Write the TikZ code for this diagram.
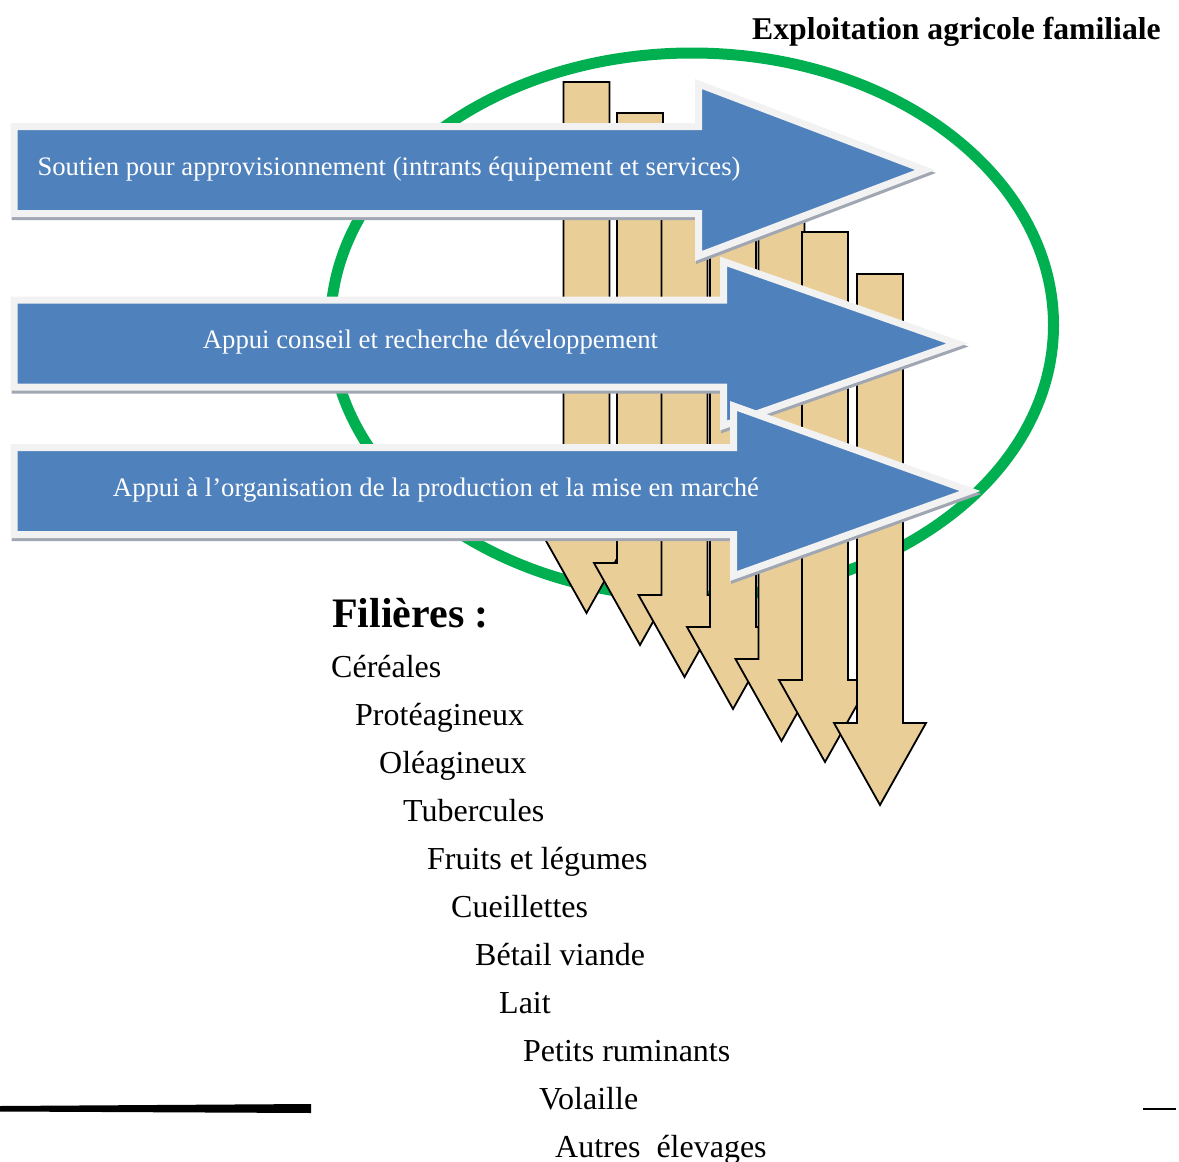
\documentclass[tikz,border=0pt]{standalone}
\usepackage{fontspec}
\setmainfont{Liberation Serif}
\usepackage{tikz}
\usetikzlibrary{positioning}
\definecolor{arrowblue}{RGB}{79,129,189}
\definecolor{arrowrim}{RGB}{242,242,242}
\definecolor{arrowshadow}{RGB}{160,166,178}
\definecolor{filgreen}{RGB}{0,176,80}
\definecolor{filtan}{RGB}{233,206,152}

\begin{document}
\begin{tikzpicture}[x=1pt,y=-1pt,
bluearrow/.style={fill=arrowblue,draw=arrowrim,line width=7pt,line join=miter},
shadowarrow/.style={fill=arrowshadow,draw=arrowshadow,line width=7pt,line join=miter},
tanarrow/.style={fill=filtan,draw=black,line width=1.8pt,line join=miter},
bluetext/.style={text=white,inner sep=0pt,anchor=base,font=\fontsize{26.7}{30}\selectfont},
itemtext/.style={inner sep=0pt,anchor=base west,font=\fontsize{32}{36}\selectfont}]

\useasboundingbox (0,0) rectangle (1179,1162);

% exploitation
\draw [color=filgreen,line width=11pt] (692,325) ellipse (361.5 and 272);

% filieres (down arrows)
\draw [tanarrow] (563.5,82) -- (609.5,82) -- (609.5,531) -- (632.5,531) -- (586.5,613) -- (540.5,531) -- (563.5,531) -- cycle;
\draw [tanarrow] (617,113) -- (663,113) -- (663,563) -- (686,563) -- (640,645) -- (594,563) -- (617,563) -- cycle;
\draw [tanarrow] (661.5,145) -- (707.5,145) -- (707.5,595) -- (730.5,595) -- (684.5,677) -- (638.5,595) -- (661.5,595) -- cycle;
\draw [tanarrow] (710,176) -- (756,176) -- (756,627) -- (779,627) -- (733,709) -- (687,627) -- (710,627) -- cycle;
\draw [tanarrow] (758.5,207) -- (804.5,207) -- (804.5,659) -- (827.5,659) -- (781.5,741) -- (735.5,659) -- (758.5,659) -- cycle;
\draw [tanarrow] (802,232) -- (848,232) -- (848,680) -- (871,680) -- (825,762) -- (779,680) -- (802,680) -- cycle;
\draw [tanarrow] (857,274) -- (903,274) -- (903,723) -- (926,723) -- (880,805) -- (834,723) -- (857,723) -- cycle;

% appuis
\draw [shadowarrow,shift={(1,3)}] (14,126.5) -- (698.5,126.5) -- (698.5,84) -- (925,170) -- (698.5,256) -- (698.5,213.5) -- (14,213.5) -- cycle;
\draw [bluearrow] (14,126.5) -- (698.5,126.5) -- (698.5,84) -- (925,170) -- (698.5,256) -- (698.5,213.5) -- (14,213.5) -- cycle;
\node [bluetext] (soutien) at (389,175) {Soutien pour approvisionnement (intrants équipement et services)};

\draw [shadowarrow,shift={(1,3)}] (14,300) -- (723.5,300) -- (723.5,261.5) -- (957,343.5) -- (723.5,425.5) -- (723.5,387) -- (14,387) -- cycle;
\draw [bluearrow] (14,300) -- (723.5,300) -- (723.5,261.5) -- (957,343.5) -- (723.5,425.5) -- (723.5,387) -- (14,387) -- cycle;
\node [bluetext] (conseil) at (430.5,348.5) {Appui conseil et recherche développement};

\draw [shadowarrow,shift={(1,3)}] (14,447.5) -- (733.5,447.5) -- (733.5,406) -- (970,491) -- (733.5,576) -- (733.5,534.5) -- (14,534.5) -- cycle;
\draw [bluearrow] (14,447.5) -- (733.5,447.5) -- (733.5,406) -- (970,491) -- (733.5,576) -- (733.5,534.5) -- (14,534.5) -- cycle;
\node [bluetext] (organisation) at (436,496.5) {Appui à l’organisation de la production et la mise en marché};

% titres
\node [inner sep=0pt,anchor=base west,font=\fontsize{31.7}{36}\selectfont\bfseries] (exploitation) at (752,39.5) {Exploitation agricole familiale};
\node [inner sep=0pt,anchor=base west,font=\fontsize{42}{46}\selectfont\bfseries] (filieres) at (332,627.5) {Filières :};

% liste des filieres
\node [itemtext] (cereales) at (331,677.5) {Céréales};
\node [itemtext] (proteagineux) at (355,725.5) {Protéagineux};
\node [itemtext] (oleagineux) at (379,773.5) {Oléagineux};
\node [itemtext] (tubercules) at (403,821.5) {Tubercules};
\node [itemtext] (fruits) at (427,869.5) {Fruits et légumes};
\node [itemtext] (cueillettes) at (451,917.5) {Cueillettes};
\node [itemtext] (betail) at (475,965.5) {Bétail viande};
\node [itemtext] (lait) at (499,1013.5) {Lait};
\node [itemtext] (ruminants) at (523,1061.5) {Petits ruminants};
\node [itemtext] (volaille) at (539,1109.5) {Volaille};
\node [itemtext] (autres) at (555,1157.5) {Autres\ \ élevages};

% traits du bas
\fill (0,1106) -- (311,1104) -- (311,1113) -- (0,1111.5) -- cycle;
\draw [line width=2.5pt] (1143,1109) -- (1176,1109);
\end{tikzpicture}
\end{document}
